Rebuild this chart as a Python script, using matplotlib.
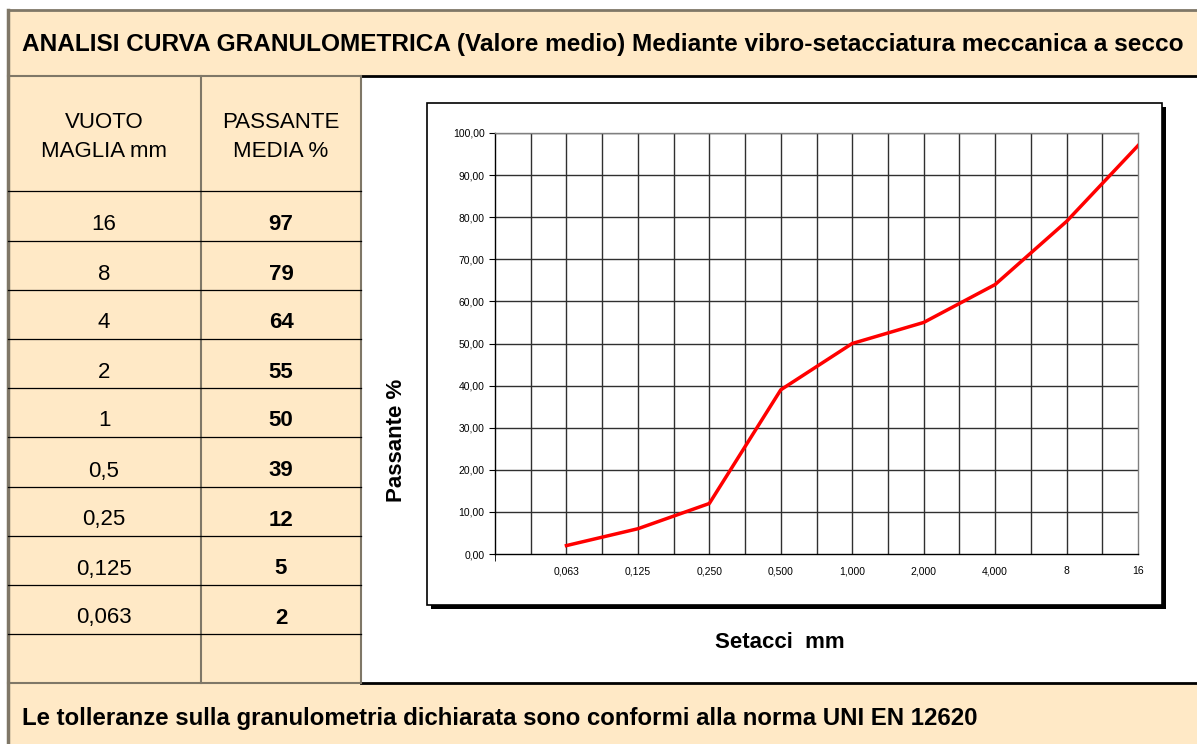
import matplotlib.pyplot as plt
from matplotlib.patches import Rectangle
from matplotlib.ticker import FuncFormatter

# curve data (sieve opening -> % passing)
sieve_labels = ['0,063', '0,125', '0,250', '0,500', '1,000', '2,000', '4,000', '8', '16']
curve_pass = [2, 6, 12, 39, 50, 55, 64, 79, 97]

# table on the left
table_sizes = ['16', '8', '4', '2', '1', '0,5', '0,25', '0,125', '0,063']
table_pass = [97, 79, 64, 55, 50, 39, 12, 5, 2]

title = 'ANALISI CURVA GRANULOMETRICA (Valore medio) Mediante vibro-setacciatura meccanica a secco'
footer = 'Le tolleranze sulla granulometria dichiarata sono conformi alla norma UNI EN 12620'

narrow = ['Liberation Sans Narrow', 'Liberation Sans', 'DejaVu Sans']
regular = ['Liberation Sans', 'DejaVu Sans']
peach = '#FFE9C6'
edge = '#7F7767'

W, H = 1197, 744
fig = plt.figure(figsize=(W / 100, H / 100), dpi=100)

# background drawing axes in pixel coordinates
bg = fig.add_axes([0, 0, 1, 1])
bg.set_xlim(0, W)
bg.set_ylim(H, 0)
bg.axis('off')

# peach bands + table
bg.add_patch(Rectangle((8, 10), W, 66, facecolor=peach, edgecolor='none'))
bg.add_patch(Rectangle((8, 76), 353, 607, facecolor=peach, edgecolor='none'))
bg.add_patch(Rectangle((8, 683), W, 70, facecolor=peach, edgecolor='none'))
# white chart area
bg.add_patch(Rectangle((361, 76), W, 607, facecolor='white', edgecolor='none'))

# outer border
bg.plot([8, W], [10, 10], color=edge, lw=2)
bg.plot([8, 8], [10, H], color=edge, lw=2.5)
bg.plot([8, 361], [76, 76], color=edge, lw=1.5)
bg.plot([361, W], [76, 76], color='black', lw=2)
bg.plot([8, 361], [683, 683], color=edge, lw=1.5)
bg.plot([361, W], [683, 683], color='black', lw=2)
bg.plot([201, 201], [76, 683], color=edge, lw=1.5)
bg.plot([361, 361], [76, 683], color=edge, lw=1.5)

row_edges = [191, 241, 290, 339, 388, 437, 487, 536, 585, 634, 683]
for y in row_edges[:-1]:
    bg.plot([8, 361], [y, y], color='black', lw=0.9)

bg.text(22, 44, title, fontsize=17.6, fontweight='bold', family=narrow,
        va='center', ha='left')
bg.text(22, 718, footer, fontsize=17.3, fontweight='bold', family=narrow,
        va='center', ha='left')

bg.text(104, 137, 'VUOTO\nMAGLIA mm', fontsize=16, family=narrow,
        ha='center', va='center', linespacing=1.5)
bg.text(281, 137, 'PASSANTE\nMEDIA %', fontsize=16, family=narrow,
        ha='center', va='center', linespacing=1.5)

for i, (s, p) in enumerate(zip(table_sizes, table_pass)):
    yc = row_edges[i + 1] - 16
    bg.text(104, yc, s, fontsize=16, family=regular, ha='center', va='center')
    bg.text(281, yc, str(p), fontsize=16, family=regular, fontweight='bold',
            ha='center', va='center')

# chart frame with shadow
bg.add_patch(Rectangle((431, 107), 735, 502, facecolor='black', edgecolor='none'))
bg.add_patch(Rectangle((427, 103), 735, 502, facecolor='white', edgecolor='black', lw=1.2))

bg.text(396, 440, 'Passante %', rotation=90, fontsize=16, fontweight='bold',
        family=narrow, ha='center', va='center')
bg.text(780, 642, 'Setacci  mm', fontsize=16, fontweight='bold',
        family=narrow, ha='center', va='center')

# the plot itself
ax = fig.add_axes([495 / W, (H - 554) / H, (1138 - 495) / W, (554 - 133) / H])
xpos = list(range(1, len(sieve_labels) + 1))
ax.set_xlim(0, len(sieve_labels))
ax.set_ylim(0, 100)

for k in range(1, 2 * len(sieve_labels)):
    ax.axvline(k / 2, color='#303030', lw=1, zorder=1)
for v in range(10, 101, 10):
    ax.axhline(v, color='#303030', lw=1, zorder=1)

ax.plot(xpos, curve_pass, color='#FF0000', lw=2.5, zorder=3)

ax.set_xticks(xpos)
ax.set_xticklabels(sieve_labels, family=regular, fontsize=7.5)
ax.set_xticks([0, len(sieve_labels)], minor=True)
ax.tick_params(axis='x', which='major', length=0, pad=9)
ax.tick_params(axis='x', which='minor', length=5, direction='out')
ax.set_yticks(range(0, 101, 10))
ax.yaxis.set_major_formatter(FuncFormatter(lambda v, _: f'{v:.2f}'.replace('.', ',')))
ax.tick_params(axis='y', length=4, direction='out', labelsize=7.5)
for lab in ax.get_yticklabels():
    lab.set_family(regular)

ax.spines['left'].set_color('black')
ax.spines['bottom'].set_color('black')
ax.spines['top'].set_color('#808080')
ax.spines['right'].set_color('#808080')
for sp in ax.spines.values():
    sp.set_linewidth(1)

fig.savefig('out.png', dpi=100)
